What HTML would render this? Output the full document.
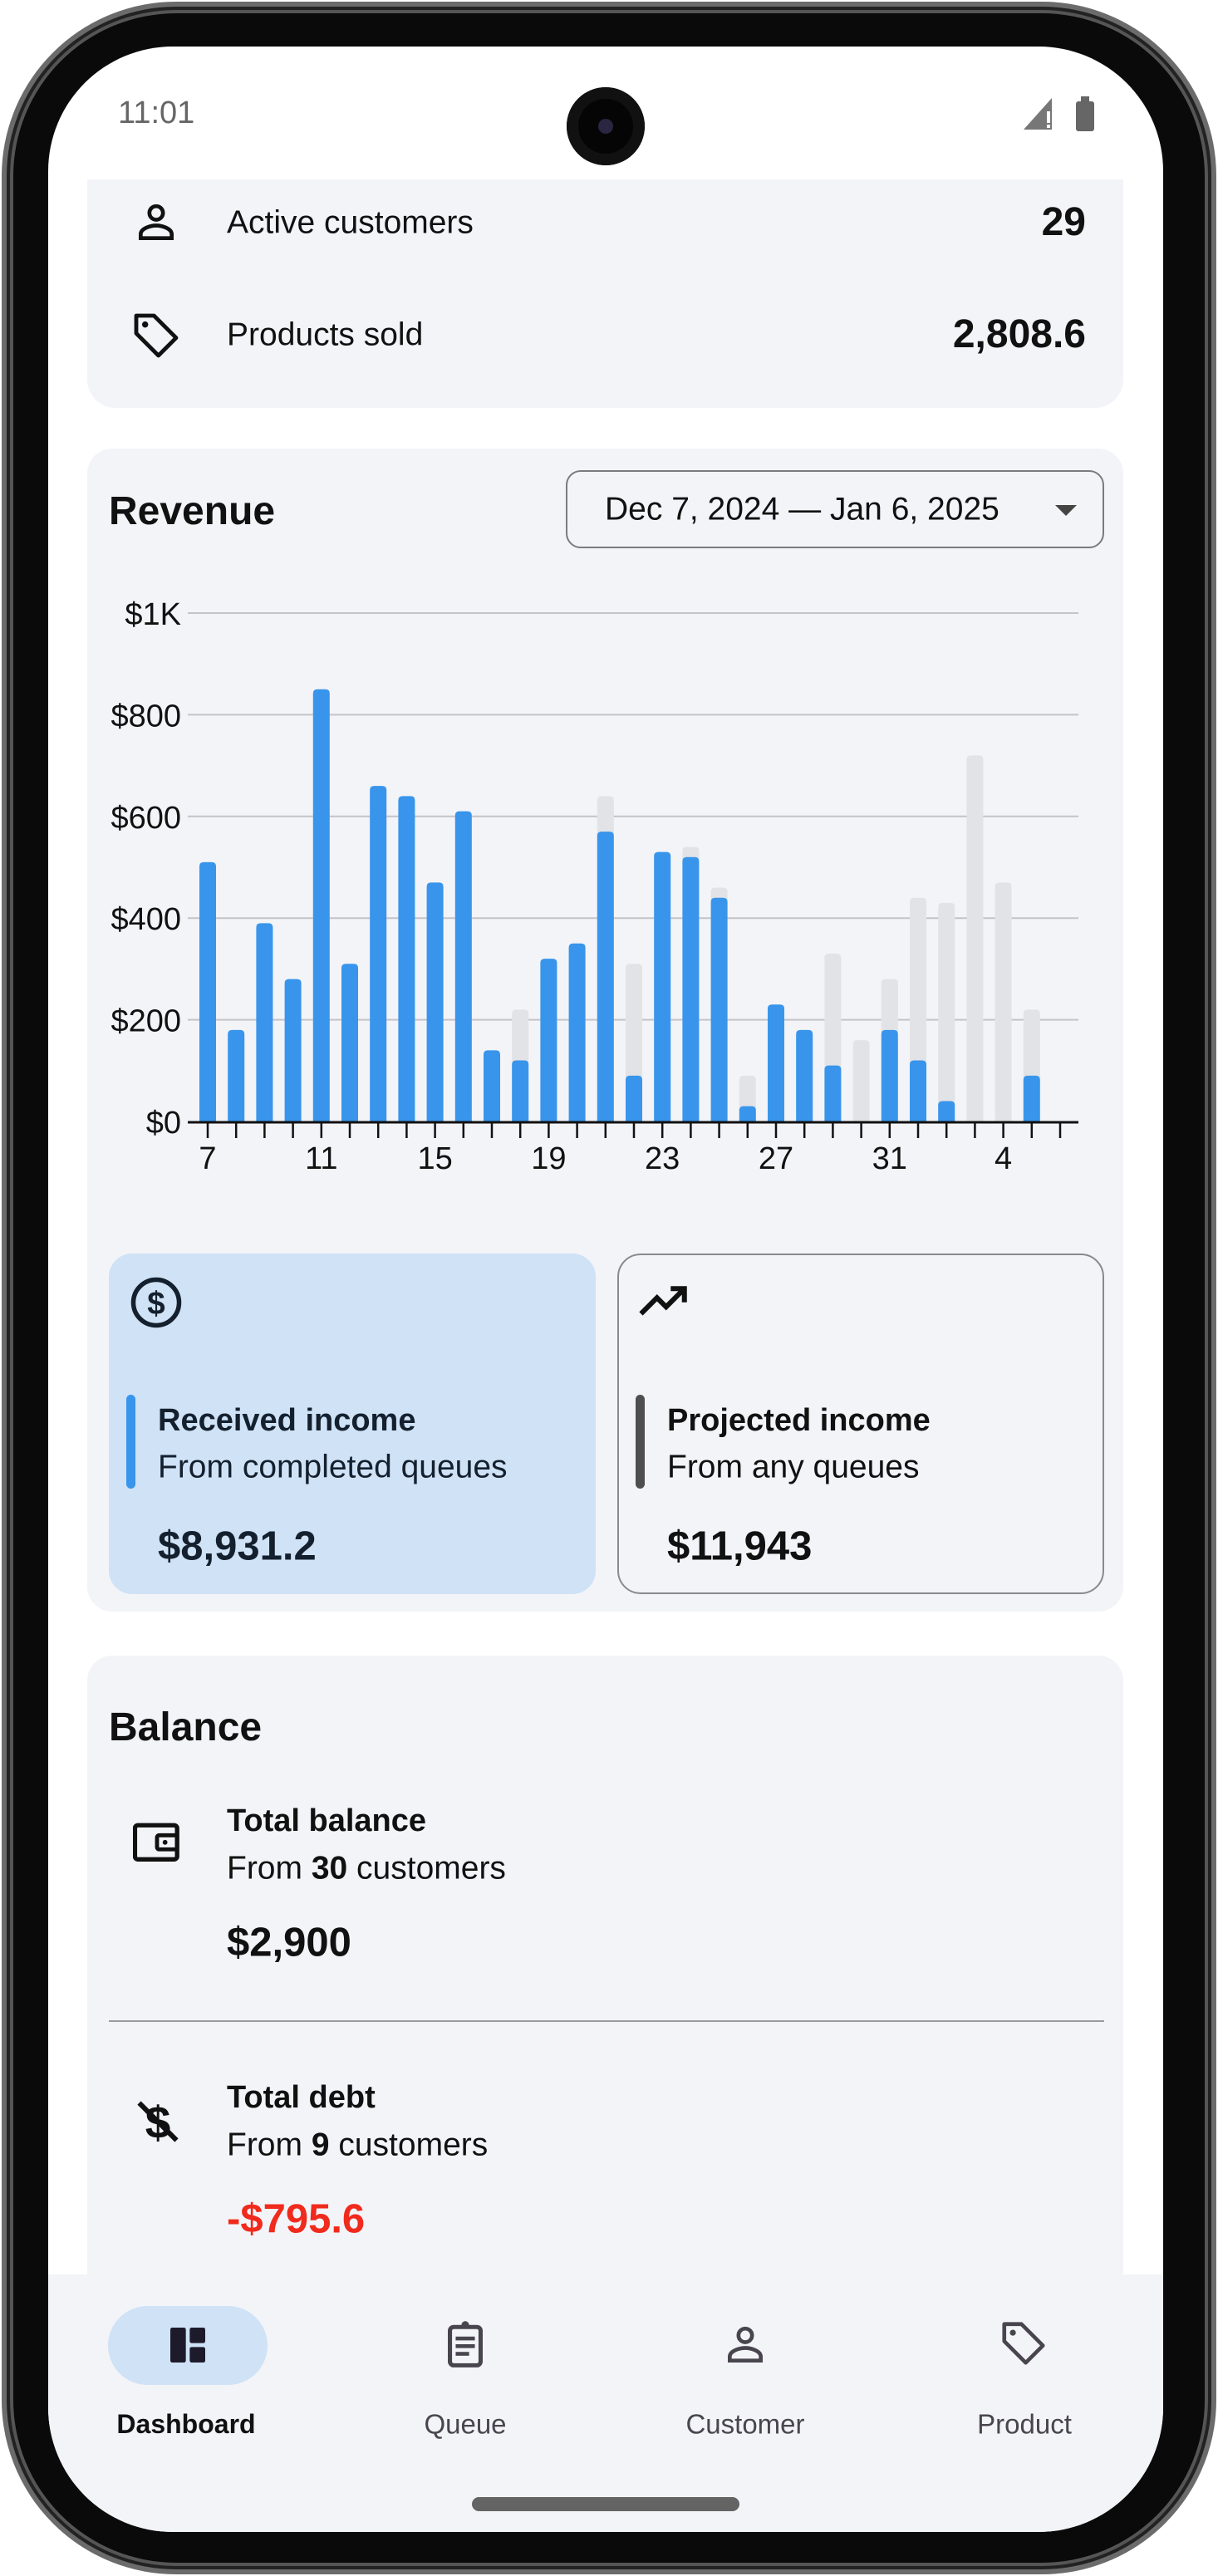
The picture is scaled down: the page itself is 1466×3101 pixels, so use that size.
<!DOCTYPE html>
<html><head><meta charset="utf-8">
<style>
*{margin:0;padding:0;box-sizing:border-box}
body{width:1466px;height:3101px;position:relative;background:#fff;font-family:"Liberation Sans",Roboto,sans-serif;overflow:hidden;color:#111}
.abs{position:absolute}
.t{position:absolute;white-space:nowrap;line-height:1;transform:translateY(-50%)}
.b{font-weight:700}
</style></head><body>
<div class="abs" style="left:2px;top:2px;width:1462px;height:3097px;border-radius:210px;background:#0a0a0a;border:6px solid #6b6b6b;box-shadow:inset 0 0 0 4px #222,inset 0 0 0 8px #555"></div>
<div class="abs" style="left:58px;top:56px;width:1342px;height:2992px;border-radius:150px;background:#fff;overflow:hidden">
</div>
<div class="abs" style="left:58px;top:56px;width:1342px;height:160px;"></div>
<div class="t" style="left:142px;top:136px;font-size:38px;color:#666">11:01</div>
<div class="abs" style="left:682px;top:105px;width:94px;height:94px;border-radius:50%;background:#050505;box-shadow:inset 0 0 0 14px #111"><div style="position:absolute;left:38px;top:38px;width:18px;height:18px;border-radius:50%;background:#2a2540"></div></div>
<svg class="abs" style="left:1230px;top:112px" width="90" height="48"><polygon points="2,44 36,6 36,44" fill="#777"/><rect x="30" y="22" width="4" height="14" fill="#fff"/><rect x="30" y="38" width="4" height="4" fill="#fff"/><rect x="65" y="10" width="22" height="36" rx="3" fill="#666"/><rect x="71" y="4" width="10" height="8" fill="#666"/></svg>

<div class="abs" style="left:105px;top:216px;width:1247px;height:275px;background:#f3f4f8;border-radius:0 0 34px 34px"></div>
<svg class="abs" style="left:160px;top:240px" width="56" height="56" viewBox="0 0 24 24"><circle cx="12" cy="7" r="3.5" fill="none" stroke="#111" stroke-width="2"/><path d="M4 20v-2c0-3 5-4.5 8-4.5s8 1.5 8 4.5v2z" fill="none" stroke="#111" stroke-width="2"/></svg>
<div class="t" style="left:273px;top:268px;font-size:39px">Active customers</div>
<div class="t b" style="right:159px;top:268px;font-size:48px">29</div>
<svg class="abs" style="left:156px;top:372px" width="64" height="64" viewBox="0 0 24 24"><path d="M3 3h8l10 10-8 8L3 11z" fill="none" stroke="#111" stroke-width="1.8" stroke-linejoin="round"/><circle cx="7" cy="7" r="1.4" fill="#111"/></svg>
<div class="t" style="left:273px;top:403px;font-size:39px">Products sold</div>
<div class="t b" style="right:159px;top:403px;font-size:48px">2,808.6</div>

<div class="abs" style="left:105px;top:540px;width:1247px;height:1400px;background:#f3f4f8;border-radius:30px"></div>
<div class="t b" style="left:131px;top:616px;font-size:48px">Revenue</div>
<div class="abs" style="left:681px;top:566px;width:648px;height:94px;border:2px solid #7a7a80;border-radius:18px"></div>
<div class="t" style="left:728px;top:613px;font-size:39px">Dec 7, 2024 — Jan 6, 2025</div>
<svg class="abs" style="left:1270px;top:606px" width="26" height="16"><polygon points="0,2 26,2 13,15" fill="#444"/></svg>

<svg class="abs" id="chart" style="left:0;top:0" width="1466" height="1450"></svg>

<div class="abs" style="left:131px;top:1509px;width:586px;height:410px;background:#cfe2f6;border-radius:28px"></div>
<svg class="abs" style="left:155px;top:1535px" width="66" height="66" viewBox="0 0 24 24"><circle cx="12" cy="12" r="10" fill="none" stroke="#14202e" stroke-width="2"/><text x="12" y="17" text-anchor="middle" font-size="14" font-weight="700" fill="#14202e" font-family="Liberation Sans">$</text></svg>
<div class="abs" style="left:152px;top:1679px;width:11px;height:113px;border-radius:6px;background:#3895eb"></div>
<div class="t b" style="left:190px;top:1710px;font-size:38px;color:#14202e">Received income</div>
<div class="t" style="left:190px;top:1766px;font-size:39px;color:#14202e">From completed queues</div>
<div class="t b" style="left:190px;top:1862px;font-size:49px;color:#14202e">$8,931.2</div>

<div class="abs" style="left:743px;top:1509px;width:586px;height:410px;border:2px solid #8a8a8e;border-radius:28px"></div>
<svg class="abs" style="left:766px;top:1540px" width="66" height="50" viewBox="0 0 24 18"><path d="M2 15l7-7 4 4 8-8M15 4h6v6" fill="none" stroke="#111" stroke-width="2.2"/></svg>
<div class="abs" style="left:765px;top:1679px;width:11px;height:113px;border-radius:6px;background:#4e4e4e"></div>
<div class="t b" style="left:803px;top:1710px;font-size:38px">Projected income</div>
<div class="t" style="left:803px;top:1766px;font-size:39px">From any queues</div>
<div class="t b" style="left:803px;top:1862px;font-size:49px">$11,943</div>

<div class="abs" style="left:105px;top:1993px;width:1247px;height:800px;background:#f3f4f8;border-radius:30px"></div>
<div class="t b" style="left:131px;top:2080px;font-size:48px">Balance</div>
<svg class="abs" style="left:160px;top:2192px" width="58" height="54" viewBox="0 0 24 22"><rect x="1" y="2" width="21" height="17" rx="1.5" fill="none" stroke="#111" stroke-width="2.2"/><rect x="12" y="7" width="10" height="7" rx="1" fill="none" stroke="#111" stroke-width="2"/><circle cx="16" cy="10.5" r="1.2" fill="#111"/></svg>
<div class="t b" style="left:273px;top:2192px;font-size:38px">Total balance</div>
<div class="t" style="left:273px;top:2249px;font-size:39px">From <b>30</b> customers</div>
<div class="t b" style="left:273px;top:2339px;font-size:49px">$2,900</div>
<div class="abs" style="left:131px;top:2432px;width:1198px;height:2px;background:#9a9a9e"></div>
<svg class="abs" style="left:164px;top:2524px" width="52" height="60" viewBox="0 0 20 24"><text x="10" y="20" text-anchor="middle" font-size="22" font-weight="700" fill="#111" font-family="Liberation Sans">$</text><line x1="1" y1="3" x2="19" y2="21" stroke="#111" stroke-width="2.4"/></svg>
<div class="t b" style="left:273px;top:2525px;font-size:38px">Total debt</div>
<div class="t" style="left:273px;top:2582px;font-size:39px">From <b>9</b> customers</div>
<div class="t b" style="left:273px;top:2672px;font-size:49px;color:#f02a1c">-$795.6</div>

<div class="abs" style="left:58px;top:2738px;width:1342px;height:310px;background:#f3f4f8;border-radius:0 0 150px 150px"></div>
<div class="abs" style="left:130px;top:2776px;width:192px;height:95px;border-radius:48px;background:#cfe2f6"></div>
<svg class="abs" style="left:198px;top:2795px" width="56" height="56" viewBox="0 0 24 24"><rect x="3" y="3" width="8" height="18" rx="1" fill="#1d1b2b"/><rect x="13" y="3" width="8" height="8" rx="1" fill="#1d1b2b"/><rect x="13" y="13" width="8" height="8" rx="1" fill="#1d1b2b"/></svg>
<svg class="abs" style="left:532px;top:2792px" width="56" height="60" viewBox="0 0 24 26"><rect x="4" y="4" width="16" height="20" rx="2" fill="none" stroke="#49454f" stroke-width="2.2"/><rect x="7" y="9" width="10" height="2" fill="#49454f"/><rect x="7" y="13" width="10" height="2" fill="#49454f"/><rect x="7" y="17" width="7" height="2" fill="#49454f"/><rect x="10" y="1" width="4" height="4" rx="2" fill="#49454f"/></svg>
<svg class="abs" style="left:869px;top:2795px" width="56" height="56" viewBox="0 0 24 24"><circle cx="12" cy="7" r="3.5" fill="none" stroke="#49454f" stroke-width="2"/><path d="M4 20v-2c0-3 5-4.5 8-4.5s8 1.5 8 4.5v2z" fill="none" stroke="#49454f" stroke-width="2"/></svg>
<svg class="abs" style="left:1201px;top:2790px" width="62" height="62" viewBox="0 0 24 24"><path d="M3 3h8l10 10-8 8L3 11z" fill="none" stroke="#49454f" stroke-width="1.8" stroke-linejoin="round"/><circle cx="7" cy="7" r="1.4" fill="#49454f"/></svg>
<div class="t b" style="left:224px;top:2918px;font-size:32px;transform:translate(-50%,-50%)">Dashboard</div>
<div class="t" style="left:560px;top:2918px;font-size:33px;color:#49454f;transform:translate(-50%,-50%)">Queue</div>
<div class="t" style="left:897px;top:2918px;font-size:33px;color:#49454f;transform:translate(-50%,-50%)">Customer</div>
<div class="t" style="left:1233px;top:2918px;font-size:33px;color:#49454f;transform:translate(-50%,-50%)">Product</div>
<div class="abs" style="left:568px;top:3006px;width:322px;height:17px;border-radius:9px;background:#646464"></div>

<script>
const days = ["7","8","9","10","11","12","13","14","15","16","17","18","19","20","21","22","23","24","25","26","27","28","29","30","31","1","2","3","4","5","6"];
const received = [510,180,390,280,850,310,660,640,470,610,140,120,320,350,570,90,530,520,440,30,230,180,110,0,180,120,40,0,0,90];
const projected = [510,180,390,280,850,310,660,640,470,610,140,220,320,350,640,310,530,540,460,90,230,180,330,160,280,440,430,720,470,220];
const yTicks = [0,200,400,600,800,1000];
const yTickLabels = ["$0","$200","$400","$600","$800","$1K"];
const xLabelEvery = 4;

const svg = document.getElementById('chart');
const NS = 'http://www.w3.org/2000/svg';
const X0 = 250, STEP = 34.2, BASE = 1350, H = 612, YMAX = 1000, BW = 20;
const xPos = i => X0 + i * STEP;
const yPos = v => BASE - v / YMAX * H;
function mk(tag, attrs){const e=document.createElementNS(NS,tag);for(const k in attrs)e.setAttribute(k,attrs[k]);svg.appendChild(e);return e;}
function barPath(cx, v){
  const top=yPos(v), h=BASE-top; if(h<=0) return null;
  const r=Math.min(5,h), l=cx-BW/2, rr=cx+BW/2;
  return `M${l},${BASE}V${top+r}Q${l},${top} ${l+r},${top}H${rr-r}Q${rr},${top} ${rr},${top+r}V${BASE}Z`;
}
yTicks.forEach((v,i)=>{
  if(v>0){const g=mk('line',{x1:226,x2:1298,y1:yPos(v),y2:yPos(v),stroke:'#c4c4c8','stroke-width':2});
  
  }
  const t=mk('text',{x:218,y:yPos(v)+14,'text-anchor':'end','font-size':38,fill:'#111','font-family':'Liberation Sans'});
  t.textContent=yTickLabels[i];
  
  
});
projected.forEach((v,i)=>{
  const d=barPath(xPos(i),v); if(!d) return;
  const p=mk('path',{d:d,fill:'#e2e3e6'});
  
  
});
received.forEach((v,i)=>{
  const d=barPath(xPos(i),v); if(!d) return;
  const p=mk('path',{d:d,fill:'#3895eb'});
  
  
});
const ax=mk('line',{x1:226,x2:1298,y1:BASE+1,y2:BASE+1,stroke:'#111','stroke-width':3});


days.forEach((d,i)=>{
  const tk=mk('line',{x1:xPos(i),x2:xPos(i),y1:BASE,y2:BASE+20,stroke:'#111','stroke-width':2.5});
  
  
  if(i%xLabelEvery===0){
    const t=mk('text',{x:xPos(i),y:BASE+57,'text-anchor':'middle','font-size':38,fill:'#111','font-family':'Liberation Sans'});
    t.textContent=d;
    
    
  }
});
</script>
</body></html>
